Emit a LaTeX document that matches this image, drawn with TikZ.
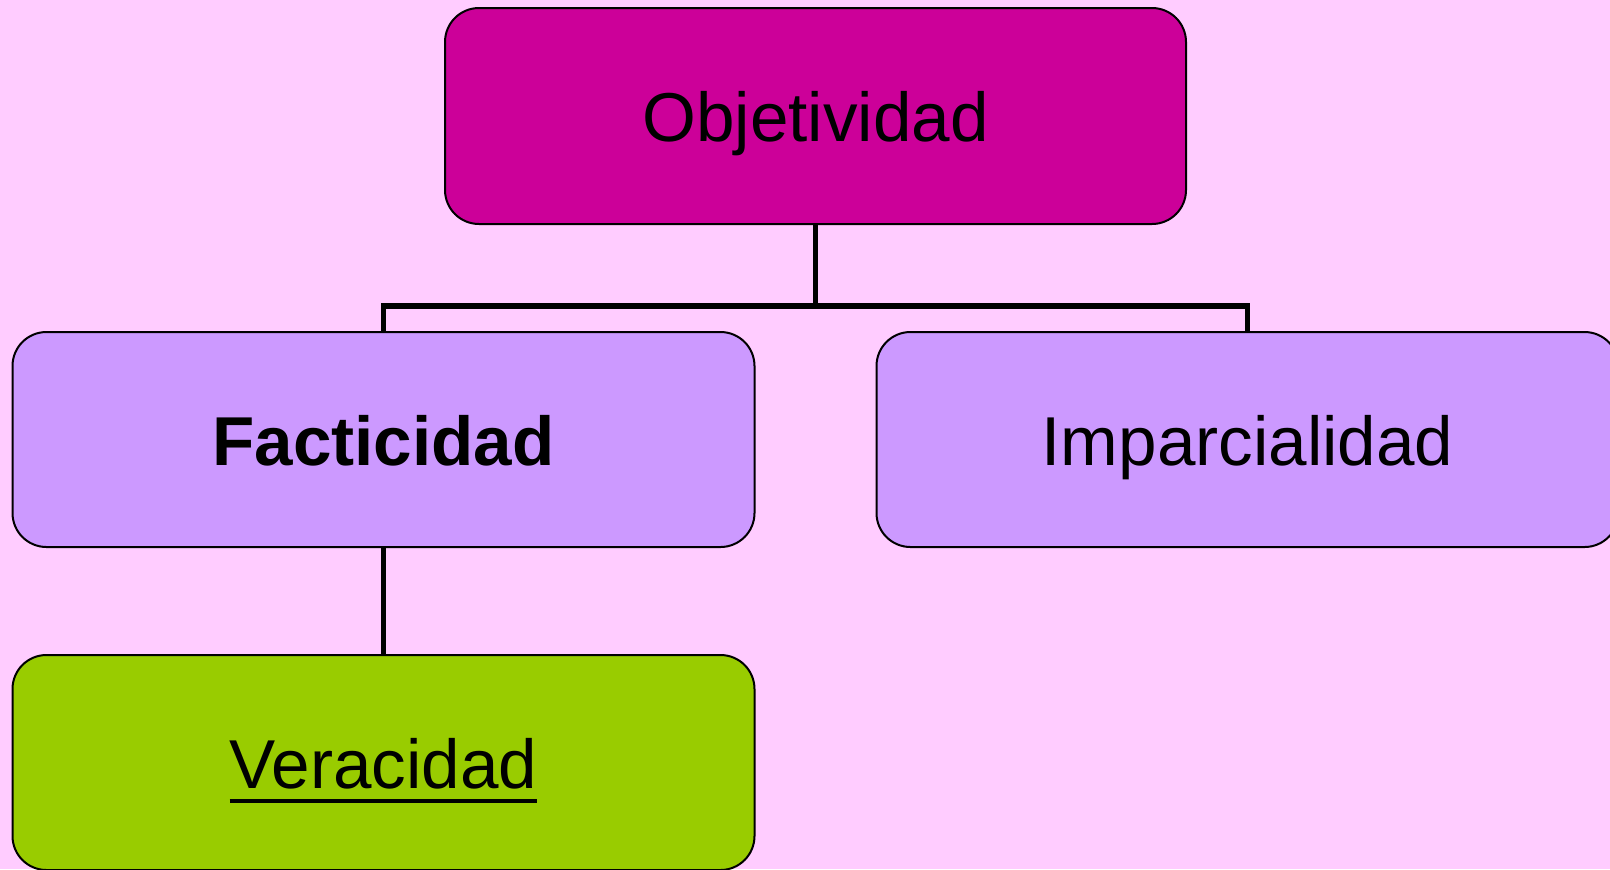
\documentclass[tikz,border=0pt]{standalone}
\usepackage{fontspec}
\setmainfont{Liberation Sans}
\definecolor{bgpink}{HTML}{FFCCFF}
\definecolor{topmag}{HTML}{CC0099}
\definecolor{lav}{HTML}{CC99FF}
\definecolor{lime}{HTML}{99CC00}
\tikzset{
  orgbox/.style={draw=black, line width=1pt, rounded corners=17pt,
    minimum width=371pt, minimum height=107.5pt, inner sep=0pt,
    text height=25.5pt, text depth=0pt,
    font=\fontsize{34.6}{40}\selectfont},
  conn/.style={draw=black, line width=2.6pt}
}
\begin{document}
\begin{tikzpicture}[x=0.5pt,y=-0.5pt]
\fill[bgpink] (0,0) rectangle (1610,869);
\useasboundingbox (0,0) rectangle (1610,869);
\node[orgbox, fill=topmag, minimum width=370.5pt, minimum height=108pt] (obj) at (815.5,116) {Objetividad};
\node[orgbox, fill=lav] (fac) at (383.5,439.5) {\bfseries Facticidad};
\node[orgbox, fill=lav] (imp) at (1247.5,439.5) {Imparcialidad};
\node[orgbox, fill=lime] (ver) at (383.5,762.5) {\vtop{\hbox{Veracidad}\kern5pt\hrule height 2.4pt}};
\coordinate (bus) at (815.5,306);
\draw[conn] (obj.south) -- (bus) -| (fac.north);
\draw[conn] (bus) -| (imp.north);
\draw[conn] (fac.south) -- (ver.north);
\end{tikzpicture}
\end{document}
